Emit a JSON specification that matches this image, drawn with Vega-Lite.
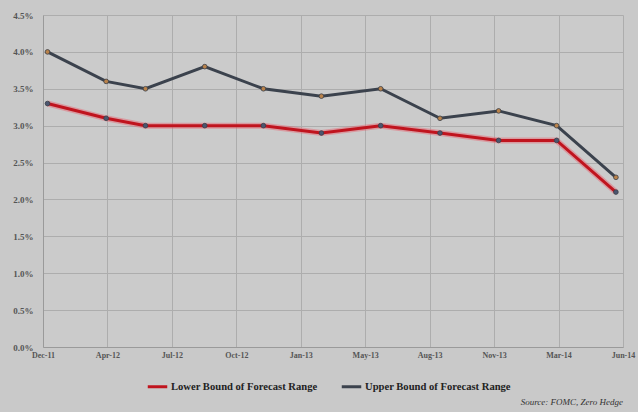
{
  "$schema": "https://vega.github.io/schema/vega-lite/v6.json",
  "width": 580,
  "height": 332,
  "autosize": {"type": "none"},
  "padding": {"left": 43, "top": 15, "right": 15, "bottom": 65},
  "background": "#c9c9c9",
  "title": {
    "text": "Source: FOMC, Zero Hedge",
    "orient": "bottom",
    "anchor": "end",
    "frame": "group",
    "font": "Liberation Serif",
    "fontStyle": "italic",
    "fontWeight": "normal",
    "fontSize": 9,
    "color": "#333333",
    "offset": 5
  },
  "config": {
    "view": {"fill": "#cbcbcb", "stroke": null},
    "axis": {
      "labelFont": "Liberation Serif",
      "labelFontWeight": "bold",
      "labelColor": "#555555",
      "gridColor": "#adadad",
      "gridWidth": 1,
      "domainColor": "#9a9a9a",
      "ticks": false,
      "title": null
    }
  },
  "data": {
    "values": [
      {"date": "2012-01-01T00:00", "series": "Lower Bound of Forecast Range", "rate": 0.033},
      {"date": "2012-04-01T00:00", "series": "Lower Bound of Forecast Range", "rate": 0.031},
      {"date": "2012-06-01T00:00", "series": "Lower Bound of Forecast Range", "rate": 0.030},
      {"date": "2012-09-01T00:00", "series": "Lower Bound of Forecast Range", "rate": 0.030},
      {"date": "2012-12-01T00:00", "series": "Lower Bound of Forecast Range", "rate": 0.030},
      {"date": "2013-03-01T00:00", "series": "Lower Bound of Forecast Range", "rate": 0.029},
      {"date": "2013-06-01T00:00", "series": "Lower Bound of Forecast Range", "rate": 0.030},
      {"date": "2013-09-01T00:00", "series": "Lower Bound of Forecast Range", "rate": 0.029},
      {"date": "2013-12-01T00:00", "series": "Lower Bound of Forecast Range", "rate": 0.028},
      {"date": "2014-03-01T00:00", "series": "Lower Bound of Forecast Range", "rate": 0.028},
      {"date": "2014-06-01T00:00", "series": "Lower Bound of Forecast Range", "rate": 0.021},
      {"date": "2012-01-01T00:00", "series": "Upper Bound of Forecast Range", "rate": 0.040},
      {"date": "2012-04-01T00:00", "series": "Upper Bound of Forecast Range", "rate": 0.036},
      {"date": "2012-06-01T00:00", "series": "Upper Bound of Forecast Range", "rate": 0.035},
      {"date": "2012-09-01T00:00", "series": "Upper Bound of Forecast Range", "rate": 0.038},
      {"date": "2012-12-01T00:00", "series": "Upper Bound of Forecast Range", "rate": 0.035},
      {"date": "2013-03-01T00:00", "series": "Upper Bound of Forecast Range", "rate": 0.034},
      {"date": "2013-06-01T00:00", "series": "Upper Bound of Forecast Range", "rate": 0.035},
      {"date": "2013-09-01T00:00", "series": "Upper Bound of Forecast Range", "rate": 0.031},
      {"date": "2013-12-01T00:00", "series": "Upper Bound of Forecast Range", "rate": 0.032},
      {"date": "2014-03-01T00:00", "series": "Upper Bound of Forecast Range", "rate": 0.030},
      {"date": "2014-06-01T00:00", "series": "Upper Bound of Forecast Range", "rate": 0.023}
    ]
  },
  "encoding": {
    "x": {
      "field": "date",
      "type": "temporal",
      "scale": {
        "domain": [
          {"year": 2011, "month": 12, "date": 25},
          {"year": 2014, "month": 6, "date": 12}
        ]
      },
      "axis": {
        "format": "%b-%y",
        "labelFontSize": 8,
        "labelPadding": 4,
        "labelFlush": false,
        "values": [
          {"year": 2011, "month": 12, "date": 25},
          {"year": 2012, "month": 4, "date": 3},
          {"year": 2012, "month": 7, "date": 12},
          {"year": 2012, "month": 10, "date": 20},
          {"year": 2013, "month": 1, "date": 28},
          {"year": 2013, "month": 5, "date": 8},
          {"year": 2013, "month": 8, "date": 16},
          {"year": 2013, "month": 11, "date": 24},
          {"year": 2014, "month": 3, "date": 4},
          {"year": 2014, "month": 6, "date": 12}
        ]
      }
    },
    "y": {
      "field": "rate",
      "type": "quantitative",
      "scale": {"domain": [0, 0.045], "nice": false},
      "axis": {
        "format": ".1%",
        "values": [0, 0.005, 0.01, 0.015, 0.02, 0.025, 0.03, 0.035, 0.04, 0.045],
        "labelFontSize": 9,
        "labelPadding": 10
      }
    }
  },
  "layer": [
    {
      "transform": [{"filter": "datum.series === 'Lower Bound of Forecast Range'"}],
      "mark": {"type": "line", "stroke": "#e8606c", "strokeWidth": 6, "opacity": 0.45}
    },
    {
      "mark": {"type": "line", "strokeWidth": 3},
      "encoding": {
        "color": {
          "field": "series",
          "type": "nominal",
          "scale": {
            "domain": ["Lower Bound of Forecast Range", "Upper Bound of Forecast Range"],
            "range": ["#c0141e", "#3b424d"]
          },
          "legend": {
            "title": null,
            "orient": "none",
            "direction": "horizontal",
            "legendX": 103,
            "legendY": 360,
            "symbolType": "stroke",
            "symbolStrokeWidth": 3,
            "symbolSize": 380,
            "labelFont": "Liberation Serif",
            "labelFontWeight": "bold",
            "labelFontSize": 10.6,
            "labelColor": "#222222",
            "labelOffset": 2,
            "columnPadding": 17
          }
        }
      }
    },
    {
      "mark": {"type": "point", "filled": true, "size": 22, "stroke": "#3a3f48", "strokeWidth": 0.8, "opacity": 1},
      "encoding": {
        "fill": {
          "field": "series",
          "type": "nominal",
          "scale": {
            "domain": ["Lower Bound of Forecast Range", "Upper Bound of Forecast Range"],
            "range": ["#4b5670", "#b9824a"]
          },
          "legend": null
        }
      }
    }
  ]
}
